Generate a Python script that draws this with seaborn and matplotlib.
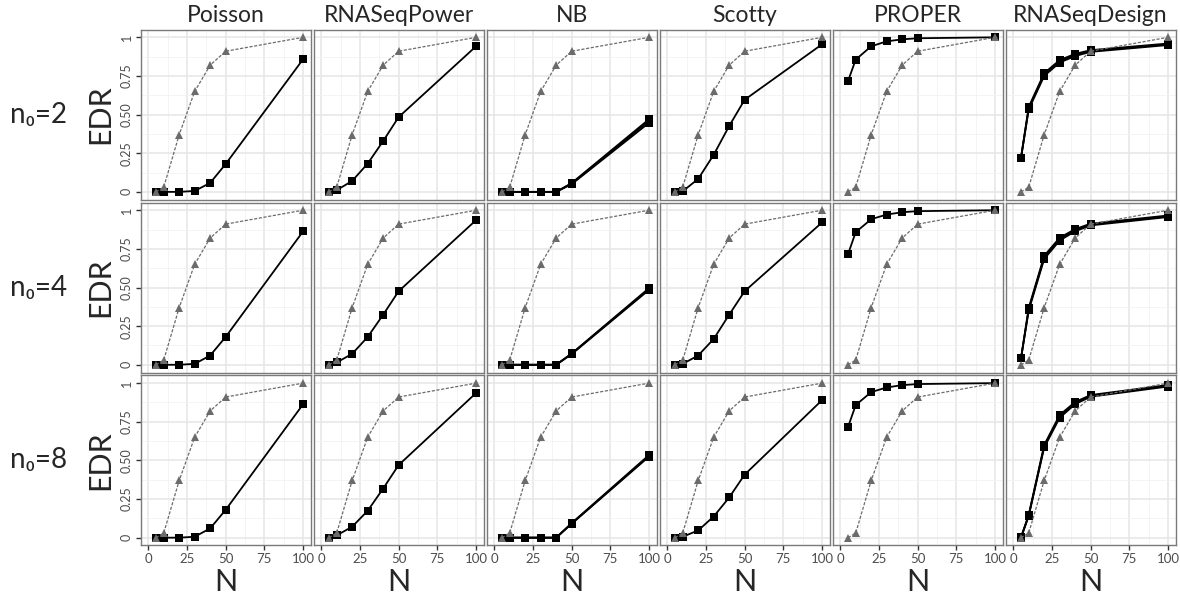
import matplotlib
matplotlib.use("Agg")
import matplotlib.pyplot as plt
import seaborn as sns
import pandas as pd

# ---------------- data ----------------
N = [5, 10, 20, 30, 40, 50, 100]
true_edr = [0, 0.03, 0.37, 0.65, 0.82, 0.91, 1.0]

methods = ["Poisson", "RNASeqPower", "NB", "Scotty", "PROPER", "RNASeqDesign"]
n0_values = [2, 4, 8]
row_labels = ["n\u2080=2", "n\u2080=4", "n\u2080=8"]
x_ticks = [0, 25, 50, 75, 100]
y_ticks = [0, 0.25, 0.5, 0.75, 1.0]
y_tick_labels = ["0", "0.25", "0.50", "0.75", "1"]

poisson_n2 = [0, 0, 0, 0.006, 0.058, 0.18, 0.858]
poisson_n4 = [0, 0, 0, 0.006, 0.06, 0.18, 0.863]
poisson_n8 = [0, 0, 0, 0.006, 0.06, 0.18, 0.863]

rnaseqpower_n2 = [0, 0.011, 0.071, 0.183, 0.329, 0.484, 0.942]
rnaseqpower_n4 = [0, 0.015, 0.071, 0.18, 0.324, 0.476, 0.936]
rnaseqpower_n8 = [0, 0.015, 0.071, 0.174, 0.318, 0.47, 0.936]

nb_n2 = [[0, 0, 0, 0, 0, 0.05, 0.447],
         [0, 0, 0, 0, 0, 0.054, 0.46],
         [0, 0, 0, 0, 0, 0.057, 0.47]]
nb_n4 = [[0, 0, 0, 0, 0, 0.069, 0.485],
         [0, 0, 0, 0, 0, 0.071, 0.491],
         [0, 0, 0, 0, 0, 0.073, 0.496]]
nb_n8 = [[0, 0, 0, 0, 0, 0.09, 0.525],
         [0, 0, 0, 0, 0, 0.092, 0.53],
         [0, 0, 0, 0, 0, 0.094, 0.535]]

scotty_n2 = [0, 0.004, 0.084, 0.24, 0.426, 0.596, 0.955]
scotty_n4 = [0, 0.006, 0.06, 0.167, 0.324, 0.476, 0.921]
scotty_n8 = [0, 0.006, 0.047, 0.137, 0.26, 0.408, 0.89]

proper_n2 = [0.716, 0.856, 0.942, 0.974, 0.987, 0.994, 1.0]
proper_n4 = [0.715, 0.858, 0.942, 0.972, 0.987, 0.994, 1.0]
proper_n8 = [0.715, 0.858, 0.942, 0.972, 0.987, 0.994, 1.0]

rnaseqdesign_n2 = [[0.219, 0.534, 0.750, 0.837, 0.879, 0.906, 0.950],
                   [0.219, 0.542, 0.759, 0.845, 0.886, 0.912, 0.955],
                   [0.221, 0.550, 0.768, 0.853, 0.893, 0.917, 0.960]]
rnaseqdesign_n4 = [[0.041, 0.352, 0.685, 0.804, 0.864, 0.902, 0.956],
                   [0.041, 0.360, 0.695, 0.813, 0.871, 0.908, 0.961],
                   [0.042, 0.368, 0.705, 0.822, 0.878, 0.913, 0.966]]
rnaseqdesign_n8 = [[0, 0.140, 0.584, 0.776, 0.864, 0.912, 0.978],
                   [0, 0.144, 0.592, 0.785, 0.871, 0.918, 0.983],
                   [0.002, 0.148, 0.600, 0.794, 0.878, 0.923, 0.988]]

estimates = {
    "Poisson": {2: [poisson_n2], 4: [poisson_n4], 8: [poisson_n8]},
    "RNASeqPower": {2: [rnaseqpower_n2], 4: [rnaseqpower_n4], 8: [rnaseqpower_n8]},
    "NB": {2: nb_n2, 4: nb_n4, 8: nb_n8},
    "Scotty": {2: [scotty_n2], 4: [scotty_n4], 8: [scotty_n8]},
    "PROPER": {2: [proper_n2], 4: [proper_n4], 8: [proper_n8]},
    "RNASeqDesign": {2: rnaseqdesign_n2, 4: rnaseqdesign_n4, 8: rnaseqdesign_n8},
}

records = []
for m in methods:
    for n0 in n0_values:
        for r, series in enumerate(estimates[m][n0]):
            for x, y in zip(N, series):
                records.append(dict(method=m, n0=n0, kind="est", rep=r, N=x, EDR=y))
        for x, y in zip(N, true_edr):
            records.append(dict(method=m, n0=n0, kind="true", rep=0, N=x, EDR=y))
df = pd.DataFrame(records)

# ---------------- layout ----------------
sns.set_theme(style="white")
plt.rcParams["font.family"] = ["Lato", "DejaVu Sans"]

W, H = 1180, 599
fig = plt.figure(figsize=(W / 100, H / 100), dpi=100)

x0, dx, pw = 140.5, 173.0, 170.3
y0, dy, ph = 29.6, 172.9, 170.0

for j, n0 in enumerate(n0_values):
    for i, m in enumerate(methods):
        left = x0 + i * dx
        top = y0 + j * dy
        ax = fig.add_axes([left / W, 1 - (top + ph) / H, pw / W, ph / H])
        sub = df[(df.method == m) & (df.n0 == n0)]
        est = sub[sub.kind == "est"]
        tru = sub[sub.kind == "true"]
        sns.lineplot(data=est, x="N", y="EDR", units="rep", estimator=None,
                     color="black", lw=1.3, marker="s", markersize=5.4,
                     markeredgewidth=0, ax=ax, legend=False, zorder=3)
        sns.lineplot(data=tru, x="N", y="EDR", color="#6b6b6b", lw=0.9,
                     linestyle=(0, (2.5, 1.3)), marker="^", markersize=6,
                     markeredgewidth=0, ax=ax, legend=False, zorder=4,
                     errorbar=None)
        ax.set_xlim(-5, 105)
        ax.set_ylim(-0.05, 1.05)
        ax.set_xticks(x_ticks)
        ax.set_xticks([12.5, 37.5, 62.5, 87.5], minor=True)
        ax.set_yticks(y_ticks)
        ax.set_yticks([0.125, 0.375, 0.625, 0.875], minor=True)
        ax.grid(which="major", color="#e6e6e6", lw=1.1)
        ax.grid(which="minor", color="#f2f2f2", lw=0.6)
        ax.set_axisbelow(True)
        for s in ax.spines.values():
            s.set_color("#7a7a7a")
            s.set_linewidth(1.0)
        ax.set_xlabel("")
        ax.set_ylabel("")
        ax.tick_params(which="minor", length=0)
        if i == 0:
            ax.set_yticklabels(y_tick_labels, rotation=90, va="center",
                               fontsize=9, color="#4d4d4d")
            ax.tick_params(axis="y", which="major", length=3.5, width=1,
                           color="#333333", pad=2, left=True)
        else:
            ax.tick_params(axis="y", labelleft=False, length=0)
        if j == len(n0_values) - 1:
            ax.set_xticklabels([str(t) for t in x_ticks], fontsize=9.5, color="#4d4d4d")
            ax.tick_params(axis="x", which="major", length=3.5, width=1,
                           color="#333333", pad=2, bottom=True)
            fig.text((left + pw / 2) / W, 1 - 582 / H, "N", ha="center",
                     va="center", fontsize=22)
        else:
            ax.tick_params(axis="x", labelbottom=False, length=0)
        if j == 0:
            fig.text((left + pw / 2) / W, 1 - 15 / H, m, ha="center",
                     va="center", fontsize=16.5)
    yc = 1 - (y0 + j * dy + ph / 2) / H
    fig.text(100 / W, yc, "EDR", rotation=90, ha="center", va="center", fontsize=22)
    fig.text(10 / W, yc, row_labels[j], ha="left", va="center", fontsize=20)

fig.savefig("out.png", dpi=100)
